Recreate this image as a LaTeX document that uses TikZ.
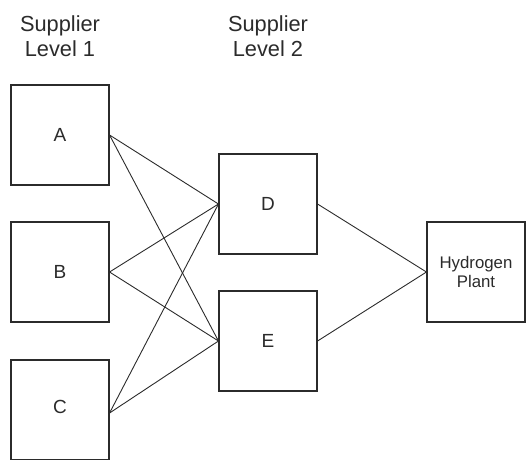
\documentclass[tikz,border=0pt]{standalone}
\usepackage{fontspec}
\setmainfont{Liberation Sans}
\definecolor{ink}{HTML}{2B2B2B}
\begin{document}
\begin{tikzpicture}[x=1pt,y=-1pt,
  box/.style={draw=ink,line width=1.1pt,fill=white,minimum width=98pt,minimum height=100pt,inner sep=0pt,text=ink,font=\fontsize{19}{22}\selectfont},
  hbox/.style={box,font=\fontsize{16.8}{18.5}\selectfont,align=center},
  head/.style={text=ink,font=\fontsize{21.8}{25}\selectfont,align=center,inner sep=0pt},
  link/.style={draw=ink,line width=0.9pt}]
\useasboundingbox (0,0) rectangle (532,459);
\node[head] (L1) at (60,36) {Supplier\\Level 1};
\node[head] (L2) at (268,36) {Supplier\\Level 2};
\node[box] (A) at (60,135) {A};
\node[box] (B) at (60,272) {B};
\node[box,minimum height=100pt] (C) at (60,410) {};
\node[text=ink,font=\fontsize{19}{22}\selectfont] (Clab) at (60,407) {C};
\node[box] (D) at (268,204) {D};
\node[box] (E) at (268,341) {E};
\node[hbox] (H) at (476,272) {Hydrogen\\Plant};
\draw[link] (A.east) -- (D.west);
\draw[link] (A.east) -- (E.west);
\draw[link] (B.east) -- (D.west);
\draw[link] (B.east) -- (E.west);
\draw[link] ([yshift=-3pt]C.east) -- (D.west);
\draw[link] ([yshift=-3pt]C.east) -- (E.west);
\draw[link] (D.east) -- (H.west);
\draw[link] (E.east) -- (H.west);
\end{tikzpicture}
\end{document}
